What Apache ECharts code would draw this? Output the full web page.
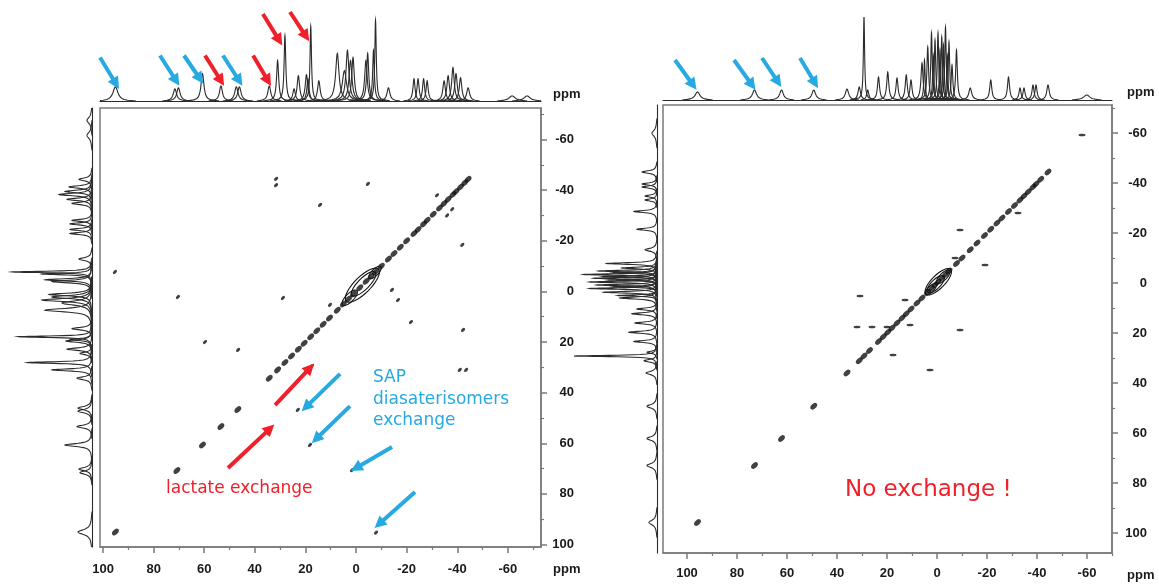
<!DOCTYPE html>
<html>
<head>
<meta charset="utf-8">
<script src="https://cdn.jsdelivr.net/npm/echarts@6/dist/echarts.min.js"></script>
<style>
html,body{margin:0;padding:0;background:#fff}
#c{width:1159px;height:585px}
</style>
</head>
<body>
<div id="c"></div>
<script>
// ---------- axis ticks (ppm) ----------
const majorTicks = [100, 80, 60, 40, 20, 0, -20, -40, -60];
const minorTicks = [90, 70, 50, 30, 10, -10, -30, -50, -70];

// ---------- mixture spectrum (left) ----------
// 1D peaks: [ppm, intensity, half-width in ppm]
const mixPeaks = [
  [95.1, 14, 1.2], [71.6, 12, 0.8], [70.2, 13, 0.8], [60.7, 27, 0.7],
  [53.4, 15, 0.7], [47.3, 14, 0.8], [46.1, 14, 0.8], [34.3, 15, 0.7],
  [31.0, 40, 0.5], [28.1, 65, 0.4], [24.5, 12, 0.6], [22.8, 25, 0.6],
  [19.6, 26, 0.6], [19.0, 22, 0.5], [17.9, 74, 0.35], [14.7, 20, 0.6],
  [7.4, 47, 0.8], [4.6, 30, 1.0], [3.4, 50, 0.7], [2.2, 40, 0.7],
  [1.2, 43, 0.6], [-3.9, 40, 0.6], [-4.6, 47, 0.5], [-6.9, 50, 0.4],
  [-7.7, 80, 0.35], [-12.8, 13, 0.7], [-22.9, 22, 0.5], [-24.5, 22, 0.5],
  [-26.7, 22, 0.5], [-28.1, 20, 0.5], [-34.8, 20, 0.6], [-36.4, 25, 0.6],
  [-38.3, 33, 0.6], [-39.5, 27, 0.6], [-41.3, 23, 0.6], [-44.3, 13, 0.7],
  [-61.7, 5, 1.5], [-67.6, 5, 1.5]
];
// diagonal 2D peaks (ppm)
const mixDiagonal = [95.1, 70.8, 60.7, 53.4, 46.7, 34.3, 31.0, 28.1, 25.5, 22.8,
  20.5, 17.9, 15.5, 13.0, 10.5, 7.4, 5.0, 3.0, 1.0, -1.5, -4.0, -6.0, -7.7, -10.0,
  -12.8, -15.0, -17.5, -20.0, -22.9, -24.5, -26.7, -28.1, -30.5, -33.0, -34.8,
  -36.4, -38.3, -39.5, -41.3, -43.0, -44.3];
// off-diagonal (exchange / cross) peaks: [F2 ppm, F1 ppm]
const mixCross = [
  [95.3, -7.7], [-7.9, 95.3], [70.4, 2.2], [1.6, 70.6], [59.7, 20.0], [18.2, 60.7],
  [46.6, 23.1], [23.0, 46.8], [34.5, 56.0], [17.5, 29.5], [31.6, -44.5], [31.6, -42.0],
  [14.2, -34.2], [-4.7, -42.5], [-42.0, -18.4], [-42.3, 15.2], [-41.0, 31.0],
  [-43.5, 31.0], [28.9, 2.6], [-36.0, -30.0], [-38.0, -32.5], [-32.0, -38.0],
  [10.3, 5.3], [-14.2, -0.6], [-16.6, 3.4], [-21.7, 12.1]
];
// contour rings around the crowded centre: [ppm, ppm, half-length along diagonal, half-width]
const mixRings = [[-2.5, -2.5, 9, 3.2], [-3.0, -3.0, 6.5, 2.2], [2.5, 2.5, 4, 1.6], [-7.5, -7.5, 3.2, 1.3]];

// ---------- pure sample spectrum (right) ----------
const purePeaks = [
  [95.8, 8, 1.2], [73.0, 10, 1.0], [62.2, 10, 0.9], [49.3, 10, 0.9], [36.0, 11, 0.8],
  [31.1, 13, 0.6], [29.2, 83, 0.3], [27.7, 10, 0.5], [23.4, 23, 0.5], [19.7, 28, 0.5],
  [16.0, 22, 0.5], [12.3, 25, 0.5], [10.4, 20, 0.5], [6.0, 37, 0.5], [5.0, 40, 0.3],
  [3.7, 53, 0.4], [2.2, 67, 0.35], [1.5, 45, 0.3], [0.8, 60, 0.35], [-0.4, 67, 0.35],
  [-1.2, 50, 0.3], [-1.9, 63, 0.35], [-2.6, 55, 0.3], [-3.4, 73, 0.35], [-4.1, 45, 0.3],
  [-4.8, 58, 0.35], [-6.0, 35, 0.4], [-7.8, 50, 0.4], [-13.3, 12, 0.7], [-21.5, 20, 0.5],
  [-28.6, 23, 0.5], [-33.2, 12, 0.5], [-34.8, 12, 0.5], [-38.4, 15, 0.5], [-39.6, 15, 0.5],
  [-44.4, 15, 0.6], [-59.9, 5, 1.5]
];
const pureDiagonal = [95.8, 73.0, 62.2, 49.3, 36.0, 31.1, 29.2, 27.0, 23.4, 21.5,
  19.7, 18.0, 16.0, 14.0, 12.3, 10.4, 8.0, 6.0, 3.7, 2.2, 0.8, -0.4, -1.9, -3.4,
  -4.8, -7.8, -10.0, -13.3, -16.0, -19.0, -21.5, -24.0, -26.0, -28.6, -31.0,
  -33.2, -34.8, -36.5, -38.4, -39.6, -41.5, -44.4];
const pureCross = [
  [30.8, 5.2], [32.0, 17.6], [26.0, 17.6], [12.8, 6.8], [17.6, 28.8], [2.8, 34.8],
  [-9.2, 18.8], [-9.2, -21.2], [-19.2, -7.2], [-7.2, -10.0], [-58.0, -59.2], [20.0, 17.6],
  [10.8, 16.8], [-32.4, -28.0]
];
const pureRings = [[-0.5, -0.5, 7, 2.6], [0.5, 0.5, 4.5, 1.8], [-2.5, -2.5, 3.5, 1.4], [2.5, 2.5, 3, 1.2]];

// ---------- annotation arrows: [from ppm, from value, to ppm, to value] ----------
const mixTopBlue = [[101.2, 43, 94.9, 17], [77.5, 45, 71.1, 20], [68.0, 45, 61.7, 22], [52.6, 45, 46.2, 20]];
const mixTopRed = [[59.7, 45, 53.4, 20], [40.7, 45, 34.8, 20], [36.8, 86, 30.4, 60], [26.1, 88, 19.8, 64]];
const mixMainRed = [[50.6, 69.8, 34.0, 54.2], [32.0, 44.9, 18.2, 30.2]];
const mixMainBlue = [[6.3, 32.6, 19.8, 45.7], [2.4, 45.3, 15.8, 58.3], [-14.2, 61.5, 0.0, 69.8], [-23.3, 79.3, -9.1, 91.9]];
const pureTopBlue = [[104.8, 40, 97.6, 15], [81.2, 40, 74.0, 15], [70.0, 42, 63.6, 18], [54.8, 42, 48.8, 17]];

// ---------- ranges ----------
const L = { x: [-73.1, 101.2], y: [-72.5, 101.0] };
const R = { x: [-70.0, 109.6], y: [-71.2, 108.0] };

const BLUE = '#27a9e1', RED = '#f0202a', TRACE = '#2b2b2b', FRAME = '#7a7a7a';

function peakRender(vertical) {
  return function (params, api) {
    const c = api.value(0), h = api.value(1), w = api.value(2);
    const thMax = Math.acos(Math.sqrt(0.3 / h));
    const n = 30, pts = [];
    for (let i = 0; i <= n; i++) {
      const th = -thMax + 2 * thMax * i / n;
      const p = c + w * Math.tan(th);
      const I = (i === 0 || i === n) ? 0 : h * Math.cos(th) * Math.cos(th);
      pts.push(vertical ? api.coord([I, p]) : api.coord([p, I]));
    }
    return { type: 'polyline', shape: { points: pts }, style: { stroke: TRACE, fill: 'none', lineWidth: 1.1 } };
  };
}

function ringRender(params, api) {
  const cx = api.value(0), cy = api.value(1), a = api.value(2), b = api.value(3);
  const pts = [];
  const r = Math.SQRT1_2;
  for (let i = 0; i < 40; i++) {
    const t = i / 40 * Math.PI * 2;
    const u = a * Math.cos(t), v = b * Math.sin(t);
    pts.push(api.coord([cx + r * (u + v), cy + r * (u - v)]));
  }
  return { type: 'polygon', shape: { points: pts }, style: { stroke: '#111', fill: 'none', lineWidth: 1.1 } };
}

function arrowMarkLine(list, color) {
  return {
    silent: true, animation: false,
    symbol: ['none', 'triangle'], symbolSize: [12, 12],
    label: { show: false },
    lineStyle: { color: color, width: 4, type: 'solid' },
    itemStyle: { color: color },
    data: list.map(a => [{ coord: [a[0], a[1]] }, { coord: [a[2], a[3]] }])
  };
}

const labelFont = { fontFamily: 'Liberation Sans, Arial, sans-serif', fontWeight: 'bold', fontSize: 13, color: '#1a1a1a' };

// major axes (with labels) on the plot grid, minor ticks on a twin grid of the same size
function mainAxes(gi, gMinor, rng, xMargin, yMargin) {
  const x = [
    { gridIndex: gi, type: 'value', min: rng.x[0], max: rng.x[1], inverse: true, position: 'bottom',
      axisLine: { show: true, onZero: false, lineStyle: { color: FRAME, width: 1.5 } },
      axisTick: { show: true, inside: false, length: 6, customValues: majorTicks, lineStyle: { color: FRAME, width: 1.5 } },
      axisLabel: Object.assign({ show: true, customValues: majorTicks, margin: xMargin }, labelFont),
      splitLine: { show: false } },
    { gridIndex: gMinor, type: 'value', min: rng.x[0], max: rng.x[1], inverse: true, position: 'bottom',
      axisLine: { show: false, onZero: false },
      axisTick: { show: true, inside: false, length: 3, customValues: minorTicks, lineStyle: { color: FRAME, width: 1.2 } },
      axisLabel: { show: false }, splitLine: { show: false } }
  ];
  const y = [
    { gridIndex: gi, type: 'value', min: rng.y[0], max: rng.y[1], inverse: true, position: 'right',
      axisLine: { show: true, onZero: false, lineStyle: { color: FRAME, width: 1.5 } },
      axisTick: { show: true, inside: false, length: 6, customValues: majorTicks, lineStyle: { color: FRAME, width: 1.5 } },
      axisLabel: Object.assign({ show: true, customValues: majorTicks, margin: yMargin, align: 'right' }, labelFont),
      splitLine: { show: false } },
    { gridIndex: gMinor, type: 'value', min: rng.y[0], max: rng.y[1], inverse: true, position: 'right',
      axisLine: { show: false, onZero: false },
      axisTick: { show: true, inside: false, length: 3, customValues: minorTicks, lineStyle: { color: FRAME, width: 1.2 } },
      axisLabel: { show: false }, splitLine: { show: false } }
  ];
  return { x, y };
}

const hidden = { axisLine: { show: false, onZero: false }, axisTick: { show: false }, axisLabel: { show: false }, splitLine: { show: false } };
const baseline = { axisLine: { show: true, onZero: false, lineStyle: { color: TRACE, width: 1.1 } } };

const lMain = mainAxes(0, 6, L, 16, 33);
const rMain = mainAxes(3, 7, R, 14, 35);

const xAxis = [
  lMain.x[0],                                                                                  // 0
  Object.assign({ gridIndex: 1, type: 'value', min: L.x[0], max: L.x[1], inverse: true }, hidden, baseline), // 1
  Object.assign({ gridIndex: 2, type: 'value', min: 0, max: 90, inverse: true }, hidden),     // 2
  rMain.x[0],                                                                                  // 3
  Object.assign({ gridIndex: 4, type: 'value', min: R.x[0], max: R.x[1], inverse: true }, hidden, baseline), // 4
  Object.assign({ gridIndex: 5, type: 'value', min: 0, max: 90, inverse: true }, hidden),     // 5
  lMain.x[1],                                                                                  // 6
  rMain.x[1]                                                                                   // 7
];
const yAxis = [
  lMain.y[0],                                                                                  // 0
  Object.assign({ gridIndex: 1, type: 'value', min: 0, max: 90 }, hidden),                    // 1
  Object.assign({ gridIndex: 2, type: 'value', min: L.y[0], max: L.y[1], inverse: true, position: 'right' }, hidden, baseline), // 2
  rMain.y[0],                                                                                  // 3
  Object.assign({ gridIndex: 4, type: 'value', min: 0, max: 90 }, hidden),                    // 4
  Object.assign({ gridIndex: 5, type: 'value', min: R.y[0], max: R.y[1], inverse: true, position: 'right' }, hidden, baseline), // 5
  lMain.y[1],                                                                                  // 6
  rMain.y[1]                                                                                   // 7
];

const lRect = { left: 100, top: 108, width: 441, height: 439 };
const rRect = { left: 663, top: 105, width: 449, height: 448 };
const grid = [
  Object.assign({ show: true, borderColor: FRAME, borderWidth: 1.5 }, lRect),   // 0 left 2D
  { left: 100, top: 10, width: 441, height: 91 },                               // 1 left top trace
  { left: 2, top: 108, width: 90, height: 439 },                                // 2 left side trace
  Object.assign({ show: true, borderColor: FRAME, borderWidth: 1.5 }, rRect),   // 3 right 2D
  { left: 663, top: 10, width: 449, height: 90 },                               // 4 right top trace
  { left: 567, top: 105, width: 90, height: 448 },                              // 5 right side trace
  Object.assign({}, lRect),                                                     // 6 left minor ticks
  Object.assign({}, rRect)                                                      // 7 right minor ticks
];

function spectrumSeries(peaks, xi, yi, vertical) {
  return {
    type: 'custom', xAxisIndex: xi, yAxisIndex: yi, clip: true, silent: true, animation: false,
    renderItem: peakRender(vertical),
    encode: vertical ? { x: 1, y: 0 } : { x: 0, y: 1 },
    data: peaks
  };
}

function panelSeries(p) {
  return [
    spectrumSeries(p.peaks, p.topX, p.topY, false),
    spectrumSeries(p.peaks, p.sideX, p.sideY, true),
    { type: 'custom', xAxisIndex: p.mainX, yAxisIndex: p.mainY, clip: true, silent: true, animation: false,
      renderItem: ringRender, encode: { x: 0, y: 1 }, data: p.rings },
    { type: 'scatter', xAxisIndex: p.mainX, yAxisIndex: p.mainY, silent: true, animation: false,
      symbol: 'circle', symbolSize: [8, 5], symbolRotate: 45,
      itemStyle: { color: '#111' },
      data: p.diagonal.map(v => [v, v]) },
    { type: 'scatter', xAxisIndex: p.mainX, yAxisIndex: p.mainY, silent: true, animation: false,
      symbol: 'circle', symbolSize: p.crossSize, symbolRotate: p.crossRotate,
      itemStyle: { color: '#111' },
      data: p.cross }
  ];
}

const series = [
  ...panelSeries({ peaks: mixPeaks, diagonal: mixDiagonal, cross: mixCross, rings: mixRings,
    crossSize: [5, 3], crossRotate: 45,
    mainX: 0, mainY: 0, topX: 1, topY: 1, sideX: 2, sideY: 2 }),
  ...panelSeries({ peaks: purePeaks, diagonal: pureDiagonal, cross: pureCross, rings: pureRings,
    crossSize: [7, 2.5], crossRotate: 0,
    mainX: 3, mainY: 3, topX: 4, topY: 4, sideX: 5, sideY: 5 }),
  // placeholders so the minor-tick axes belong to a coordinate system
  { type: 'scatter', xAxisIndex: 6, yAxisIndex: 6, data: [] },
  { type: 'scatter', xAxisIndex: 7, yAxisIndex: 7, data: [] },
  // annotation arrows
  { type: 'scatter', xAxisIndex: 1, yAxisIndex: 1, data: [], markLine: arrowMarkLine(mixTopBlue, BLUE) },
  { type: 'scatter', xAxisIndex: 1, yAxisIndex: 1, data: [], markLine: arrowMarkLine(mixTopRed, RED) },
  { type: 'scatter', xAxisIndex: 0, yAxisIndex: 0, data: [], markLine: arrowMarkLine(mixMainRed, RED) },
  { type: 'scatter', xAxisIndex: 0, yAxisIndex: 0, data: [], markLine: arrowMarkLine(mixMainBlue, BLUE) },
  { type: 'scatter', xAxisIndex: 4, yAxisIndex: 4, data: [], markLine: arrowMarkLine(pureTopBlue, BLUE) }
];

const handFont = "'DejaVu Sans', sans-serif";
const ppmStyle = { text: 'ppm', font: "bold 13px 'Liberation Sans', Arial, sans-serif", fill: '#1a1a1a' };

const graphic = [
  { type: 'text', left: 553, top: 88, style: ppmStyle },
  { type: 'text', left: 553, top: 563, style: ppmStyle },
  { type: 'text', left: 1127, top: 86, style: ppmStyle },
  { type: 'text', left: 1127, top: 569, style: ppmStyle },
  { type: 'text', left: 373, top: 367, style: { text: 'SAP\ndiasaterisomers\nexchange', fill: BLUE, font: '17px ' + handFont, lineHeight: 21.5 } },
  { type: 'text', left: 166, top: 480, style: { text: 'lactate exchange', fill: RED, font: '17px ' + handFont } },
  { type: 'text', left: 845, top: 479, style: { text: 'No exchange !', fill: RED, font: '23px ' + handFont } }
];

const chart = echarts.init(document.getElementById('c'), null, { renderer: 'canvas' });
chart.setOption({
  animation: false,
  backgroundColor: '#fff',
  grid, xAxis, yAxis, series, graphic
});
</script>
</body>
</html>
